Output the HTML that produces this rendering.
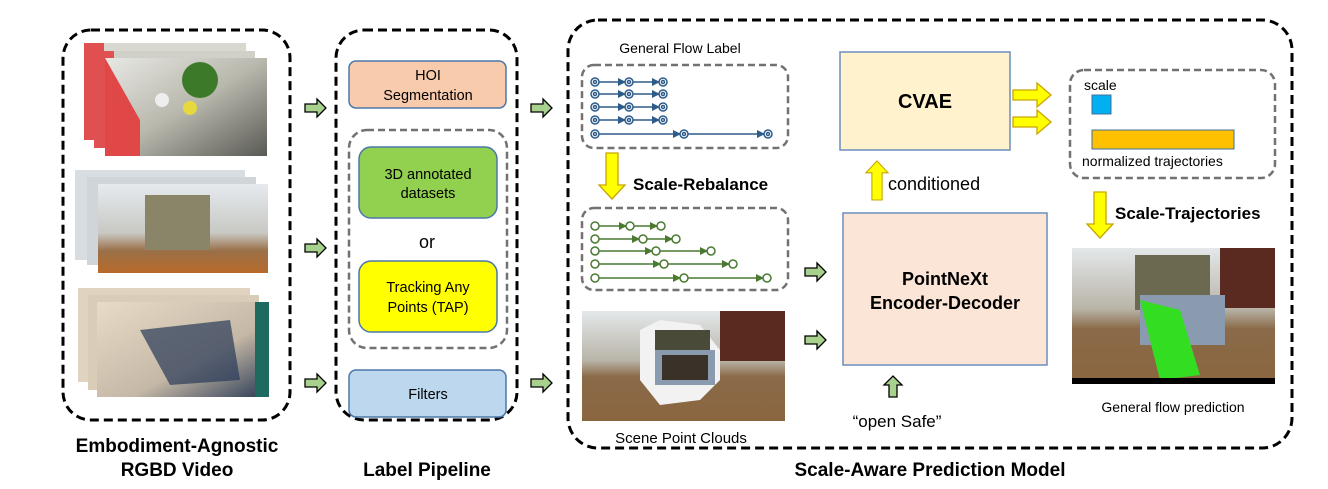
<!DOCTYPE html>
<html><head><meta charset="utf-8"><style>
html,body{margin:0;padding:0;background:#fff;width:1328px;height:489px;overflow:hidden}
svg text{font-family:"Liberation Sans","DejaVu Sans",sans-serif}
</style></head><body>
<svg width="1328" height="489" viewBox="0 0 1328 489" xmlns="http://www.w3.org/2000/svg">
<defs>
<marker id="ab" markerWidth="8" markerHeight="8" refX="7" refY="4" orient="auto" markerUnits="userSpaceOnUse"><path d="M0,0 L8,4 L0,8 Z" fill="#2e5c8a"/></marker>
<marker id="ag" markerWidth="8" markerHeight="8" refX="7" refY="4" orient="auto" markerUnits="userSpaceOnUse"><path d="M0,0 L8,4 L0,8 Z" fill="#4a7a30"/></marker>
<g id="garr"><path d="M0,-4 L12,-4 L12,-9 L21,0 L12,9 L12,4 L0,4 Z" fill="#a9d18e" stroke="#000" stroke-width="1.3"/></g>
<g id="yd"><path d="M-6,0 L6,0 L6,32 L13,32 L0,46 L-13,32 L-6,32 Z" fill="#ffff00" stroke="#c9a400" stroke-width="1.3"/></g>
<g id="yr"><path d="M0,-5 L24,-5 L24,-12 L38,0 L24,12 L24,5 L0,5 Z" fill="#ffff00" stroke="#c9a400" stroke-width="1.3"/></g>
<g id="brow" stroke="#2e5c8a" stroke-width="1.5" fill="none">
<line x1="599" y1="0" x2="625" y2="0" marker-end="url(#ab)"/><line x1="633" y1="0" x2="659" y2="0" marker-end="url(#ab)"/>
<circle cx="595" cy="0" r="4"/><circle cx="595" cy="0" r="1.5"/><circle cx="629" cy="0" r="4"/><circle cx="629" cy="0" r="1.5"/><circle cx="663" cy="0" r="4"/><circle cx="663" cy="0" r="1.5"/>
</g>
<linearGradient id="p1" x1="0" y1="0" x2="1" y2="1"><stop offset="0" stop-color="#e8e8e4"/><stop offset="0.5" stop-color="#b9b8ad"/><stop offset="1" stop-color="#5a5a55"/></linearGradient>
<linearGradient id="p2" x1="0" y1="0" x2="0" y2="1"><stop offset="0" stop-color="#e6eaef"/><stop offset="0.55" stop-color="#c8c9c4"/><stop offset="0.75" stop-color="#9a7048"/><stop offset="1" stop-color="#b86a2a"/></linearGradient>
<linearGradient id="p3" x1="0" y1="0" x2="1" y2="1"><stop offset="0" stop-color="#e8dcc8"/><stop offset="0.6" stop-color="#c5b8a6"/><stop offset="1" stop-color="#2a3a55"/></linearGradient>
<linearGradient id="p4" x1="0" y1="0" x2="0" y2="1"><stop offset="0" stop-color="#e4e8ea"/><stop offset="0.45" stop-color="#b8b4a8"/><stop offset="0.6" stop-color="#8a6a48"/><stop offset="1" stop-color="#8a6640"/></linearGradient>
</defs>

<!-- Box 1 -->
<rect x="63" y="30" width="227" height="390" rx="28" fill="none" stroke="#000" stroke-width="3" stroke-dasharray="9,5"/>
<rect x="84" y="43" width="162" height="97" fill="#d8d8d0"/><rect x="84" y="43" width="20" height="97" fill="#e05050"/>
<rect x="94" y="51" width="161" height="97" fill="#d0d0c8"/><rect x="94" y="51" width="20" height="97" fill="#e05050"/>
<rect x="105" y="58" width="162" height="98" fill="url(#p1)"/>
<path d="M105,58 L105,156 L140,156 L140,120 Z" fill="#e04848"/>
<circle cx="200" cy="80" r="18" fill="#3c7a2a"/><circle cx="162" cy="100" r="7" fill="#eee"/><circle cx="190" cy="108" r="7" fill="#e8d840"/>
<rect x="75" y="170" width="170" height="90" fill="#d8dde2"/>
<rect x="87" y="177" width="169" height="88" fill="#d0d5da"/>
<rect x="98" y="184" width="170" height="89" fill="url(#p2)"/>
<rect x="145" y="195" width="65" height="55" fill="#8a8468"/>
<rect x="78" y="288" width="172" height="94" fill="#e0d4c0"/>
<rect x="88" y="295" width="171" height="95" fill="#dacdb8"/>
<rect x="97" y="302" width="172" height="95" fill="url(#p3)"/>
<rect x="255" y="302" width="14" height="95" fill="#1f6a60"/>
<path d="M140,330 L230,320 L240,380 L170,385 Z" fill="#2a3a58" opacity="0.7"/>
<text x="177" y="452" font-size="19" font-weight="bold" text-anchor="middle">Embodiment-Agnostic</text>
<text x="177" y="476" font-size="19" font-weight="bold" text-anchor="middle">RGBD Video</text>

<use href="#garr" x="305" y="108"/>
<use href="#garr" x="305" y="248"/>
<use href="#garr" x="305" y="383"/>

<!-- Box 2 -->
<rect x="336" y="30" width="181" height="390" rx="28" fill="none" stroke="#000" stroke-width="3" stroke-dasharray="9,5"/>
<rect x="349" y="61" width="157" height="47" rx="7" fill="#f8cbad" stroke="#4a78a8" stroke-width="1.5"/>
<text x="428" y="80" font-size="14.5" text-anchor="middle">HOI</text>
<text x="428" y="100" font-size="14.5" text-anchor="middle">Segmentation</text>
<rect x="349" y="130" width="158" height="218" rx="18" fill="none" stroke="#767171" stroke-width="2.5" stroke-dasharray="7,4"/>
<rect x="359" y="147" width="138" height="71" rx="12" fill="#92d050" stroke="#4a78a8" stroke-width="1.5"/>
<text x="428" y="179" font-size="14.5" text-anchor="middle">3D annotated</text>
<text x="428" y="198" font-size="14.5" text-anchor="middle">datasets</text>
<text x="427" y="248" font-size="18" text-anchor="middle">or</text>
<rect x="359" y="261" width="138" height="71" rx="12" fill="#ffff00" stroke="#4a78a8" stroke-width="1.5"/>
<text x="428" y="292" font-size="14.5" text-anchor="middle">Tracking Any</text>
<text x="428" y="312" font-size="14.5" text-anchor="middle">Points (TAP)</text>
<rect x="349" y="370" width="157" height="47" rx="7" fill="#bdd7ee" stroke="#4a78a8" stroke-width="1.5"/>
<text x="428" y="399" font-size="14.5" text-anchor="middle">Filters</text>
<text x="427" y="476" font-size="19" font-weight="bold" text-anchor="middle">Label Pipeline</text>

<use href="#garr" x="531" y="108"/>
<use href="#garr" x="531" y="383"/>

<!-- Box 3 -->
<rect x="568" y="20" width="724" height="428" rx="30" fill="none" stroke="#000" stroke-width="3" stroke-dasharray="9,5"/>
<text x="680" y="53" font-size="14" text-anchor="middle">General Flow Label</text>
<rect x="582" y="65" width="206" height="83" rx="12" fill="none" stroke="#767171" stroke-width="2.5" stroke-dasharray="7,4"/>
<use href="#brow" y="82"/><use href="#brow" y="94"/><use href="#brow" y="107"/><use href="#brow" y="120"/>
<g stroke="#2e5c8a" stroke-width="1.5" fill="none">
<line x1="599" y1="134" x2="680" y2="134" marker-end="url(#ab)"/><line x1="688" y1="134" x2="764" y2="134" marker-end="url(#ab)"/>
<circle cx="595" cy="134" r="4"/><circle cx="684" cy="134" r="4"/><circle cx="684" cy="134" r="1.5"/><circle cx="768" cy="134" r="4"/><circle cx="768" cy="134" r="1.5"/><circle cx="595" cy="134" r="1.5"/>
</g>
<use href="#yd" x="612" y="153"/>
<text x="633" y="190" font-size="17" font-weight="bold">Scale-Rebalance</text>
<rect x="582" y="208" width="206" height="82" rx="12" fill="none" stroke="#767171" stroke-width="2.5" stroke-dasharray="7,4"/>
<g stroke="#4a7a30" stroke-width="1.5" fill="none">
<line x1="599" y1="226" x2="626" y2="226" marker-end="url(#ag)"/><line x1="634" y1="226" x2="657" y2="226" marker-end="url(#ag)"/>
<circle cx="595" cy="226" r="4"/><circle cx="630" cy="226" r="4"/><circle cx="661" cy="226" r="4"/>
<line x1="599" y1="239" x2="639" y2="239" marker-end="url(#ag)"/><line x1="647" y1="239" x2="672" y2="239" marker-end="url(#ag)"/>
<circle cx="595" cy="239" r="4"/><circle cx="643" cy="239" r="4"/><circle cx="676" cy="239" r="4"/>
<line x1="599" y1="251" x2="652" y2="251" marker-end="url(#ag)"/><line x1="660" y1="251" x2="707" y2="251" marker-end="url(#ag)"/>
<circle cx="595" cy="251" r="4"/><circle cx="656" cy="251" r="4"/><circle cx="711" cy="251" r="4"/>
<line x1="599" y1="264" x2="660" y2="264" marker-end="url(#ag)"/><line x1="668" y1="264" x2="729" y2="264" marker-end="url(#ag)"/>
<circle cx="595" cy="264" r="4"/><circle cx="664" cy="264" r="4"/><circle cx="733" cy="264" r="4"/>
<line x1="599" y1="278" x2="680" y2="278" marker-end="url(#ag)"/><line x1="688" y1="278" x2="763" y2="278" marker-end="url(#ag)"/>
<circle cx="595" cy="278" r="4"/><circle cx="684" cy="278" r="4"/><circle cx="767" cy="278" r="4"/>
</g>
<rect x="582" y="311" width="203" height="110" fill="url(#p4)"/>
<rect x="720" y="311" width="65" height="50" fill="#5a2a20"/>
<path d="M640,330 L660,320 L700,325 L720,350 L720,380 L700,400 L660,405 L640,380 Z" fill="#f2f2f2"/>
<rect x="655" y="330" width="55" height="30" fill="#4a4a38"/>
<rect x="655" y="350" width="60" height="35" fill="#8a9bb0"/><rect x="662" y="355" width="46" height="25" fill="#3a3228"/>
<text x="681" y="443" font-size="15" text-anchor="middle">Scene Point Clouds</text>

<use href="#garr" x="805" y="272"/>
<use href="#garr" x="805" y="340"/>

<rect x="840" y="52" width="170" height="98" fill="#fff2cc" stroke="#6c8ebf" stroke-width="1.5"/>
<text x="925" y="108" font-size="20" font-weight="bold" text-anchor="middle">CVAE</text>
<g transform="translate(877,200) rotate(180)"><use href="#yd" x="0" y="0" transform="scale(0.85)"/></g>
<text x="888" y="190" font-size="18">conditioned</text>
<rect x="843" y="213" width="204" height="152" fill="#fbe5d6" stroke="#6c8ebf" stroke-width="1.5"/>
<text x="945" y="285" font-size="18" font-weight="bold" text-anchor="middle">PointNeXt</text>
<text x="945" y="309" font-size="18" font-weight="bold" text-anchor="middle">Encoder-Decoder</text>
<g transform="translate(893,397) rotate(-90)"><use href="#garr"/></g>
<text x="897" y="427" font-size="17" text-anchor="middle">“open Safe”</text>

<use href="#yr" x="1013" y="95"/>
<use href="#yr" x="1013" y="122"/>

<rect x="1070" y="70" width="205" height="108" rx="14" fill="none" stroke="#767171" stroke-width="2.5" stroke-dasharray="7,4"/>
<text x="1084" y="90" font-size="14">scale</text>
<rect x="1092" y="95" width="19" height="19" fill="#00b0f0" stroke="#41719c" stroke-width="1"/>
<rect x="1092" y="130" width="142" height="19" fill="#ffc000" stroke="#41719c" stroke-width="1"/>
<text x="1082" y="166" font-size="14">normalized trajectories</text>
<use href="#yd" x="1100" y="192"/>
<text x="1115" y="219" font-size="17" font-weight="bold">Scale-Trajectories</text>
<rect x="1072" y="248" width="203" height="135" fill="url(#p4)"/>
<rect x="1220" y="248" width="55" height="60" fill="#5a2a20"/>
<rect x="1135" y="255" width="75" height="55" fill="#6b6a50"/>
<rect x="1140" y="295" width="85" height="50" fill="#8a9bb0"/>
<path d="M1140,300 L1180,310 L1200,375 L1160,380 Z" fill="#33dd22"/>
<rect x="1072" y="378" width="203" height="6" fill="#000"/>
<text x="1173" y="412" font-size="14" text-anchor="middle">General flow prediction</text>
<text x="930" y="476" font-size="19" font-weight="bold" text-anchor="middle">Scale-Aware Prediction Model</text>
</svg>
</body></html>
